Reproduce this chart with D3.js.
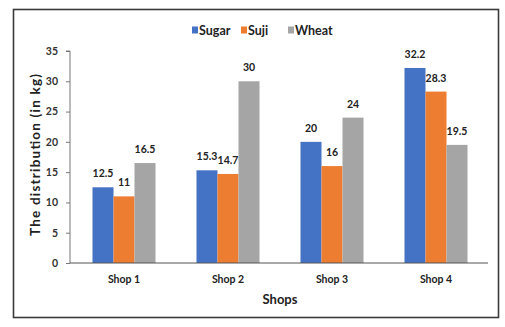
<!DOCTYPE html>
<html>
<head>
<meta charset="utf-8">
<script src="https://cdn.jsdelivr.net/npm/d3@7"></script>
<style>
  html, body { margin: 0; padding: 0; background: #fff; }
  svg { display: block; font-family: Lato, "Open Sans", sans-serif; }
</style>
</head>
<body>
<svg id="chart" width="505" height="327"></svg>
<script>
// Distribution per shop (kg)
const shops = ["Shop 1", "Shop 2", "Shop 3", "Shop 4"];
const seriesNames = ["Sugar", "Suji", "Wheat"];
const sugar = [12.5, 15.3, 20, 32.2];
const suji = [11, 14.7, 16, 28.3];
const wheat = [16.5, 30, 24, 19.5];
const yTicks = [0, 5, 10, 15, 20, 25, 30, 35];
const colors = ["#4472C4", "#ED7D31", "#A5A5A5"];

const seriesValues = [sugar, suji, wheat];
const rows = shops.map((s, i) => ({
  shop: s,
  values: seriesNames.map((n, j) => ({ name: n, value: seriesValues[j][i], color: colors[j] }))
}));

const svg = d3.select("#chart");

// outer frame
svg.append("rect")
  .attr("x", 13.5).attr("y", 9.5)
  .attr("width", 485).attr("height", 308)
  .attr("fill", "#fff")
  .attr("stroke", "#3a3a3a")
  .attr("stroke-width", 1.6);

const x0 = d3.scaleBand().domain(shops).range([72, 488]).paddingInner(0.394).paddingOuter(0.197);
const x1 = d3.scaleBand().domain(seriesNames).range([0, x0.bandwidth()]);
const y = d3.scaleLinear().domain([0, 35]).range([263, 51]);

// bars
const groups = svg.append("g").selectAll("g")
  .data(rows).join("g")
  .attr("transform", d => `translate(${x0(d.shop)},0)`);

groups.selectAll("rect")
  .data(d => d.values).join("rect")
  .attr("x", d => x1(d.name))
  .attr("y", d => y(d.value))
  .attr("width", x1.bandwidth())
  .attr("height", d => y(0) - y(d.value))
  .attr("fill", d => d.color);

// value labels
groups.selectAll("text")
  .data(d => d.values).join("text")
  .attr("x", d => x1(d.name) + x1.bandwidth() / 2)
  .attr("y", d => y(d.value) - 10)
  .attr("text-anchor", "middle")
  .attr("font-size", 10.5)
  .attr("font-weight", 700)
  .attr("fill", "#222")
  .text(d => d.value);

// y axis
const yAxis = d3.axisLeft(y).tickValues(yTicks).tickSize(4).tickPadding(8);
const gy = svg.append("g").attr("transform", "translate(70,0)").call(yAxis);
gy.select(".domain").attr("stroke", "#777").attr("d", `M-4,${y(35)}H0V${y(0)}`);
gy.selectAll(".tick line").attr("stroke", "#777");
gy.selectAll(".tick text")
  .attr("font-family", "Lato, sans-serif")
  .attr("font-size", 10.5)
  .attr("font-weight", 700)
  .attr("fill", "#333");

// x axis baseline and labels
const xAxis = d3.axisBottom(x0).tickSize(0).tickPadding(13);
const gx = svg.append("g").attr("transform", `translate(0,${y(0)})`).call(xAxis);
gx.select(".domain").attr("stroke", "#555").attr("stroke-width", 1.2).attr("d", "M70,0H488");
gx.selectAll(".tick text")
  .attr("font-family", "Lato, sans-serif")
  .attr("font-size", 10.5)
  .attr("font-weight", 700)
  .attr("fill", "#222");

// axis titles
svg.append("text")
  .attr("x", 280).attr("y", 304)
  .attr("text-anchor", "middle")
  .attr("font-size", 13)
  .attr("font-weight", 700)
  .attr("fill", "#222")
  .text("Shops");

svg.append("text")
  .attr("transform", "translate(40,155) rotate(-90)")
  .attr("text-anchor", "middle")
  .attr("font-size", 13.5)
  .attr("font-weight", 700)
  .attr("fill", "#222")
  .attr("textLength", 162)
  .attr("lengthAdjust", "spacing")
  .text("The distribution (in kg)");

// legend
const legendX = [192, 241, 288];
const legend = svg.append("g").selectAll("g")
  .data(seriesNames).join("g")
  .attr("transform", (d, i) => `translate(${legendX[i]},30)`);
legend.append("rect")
  .attr("x", 0).attr("y", -3.5)
  .attr("width", 6).attr("height", 7)
  .attr("fill", (d, i) => colors[i]);
legend.append("text")
  .attr("x", 7).attr("y", 4.5)
  .attr("font-size", 12.5)
  .attr("font-weight", 700)
  .attr("fill", "#222")
  .text(d => d);
</script>
</body>
</html>
